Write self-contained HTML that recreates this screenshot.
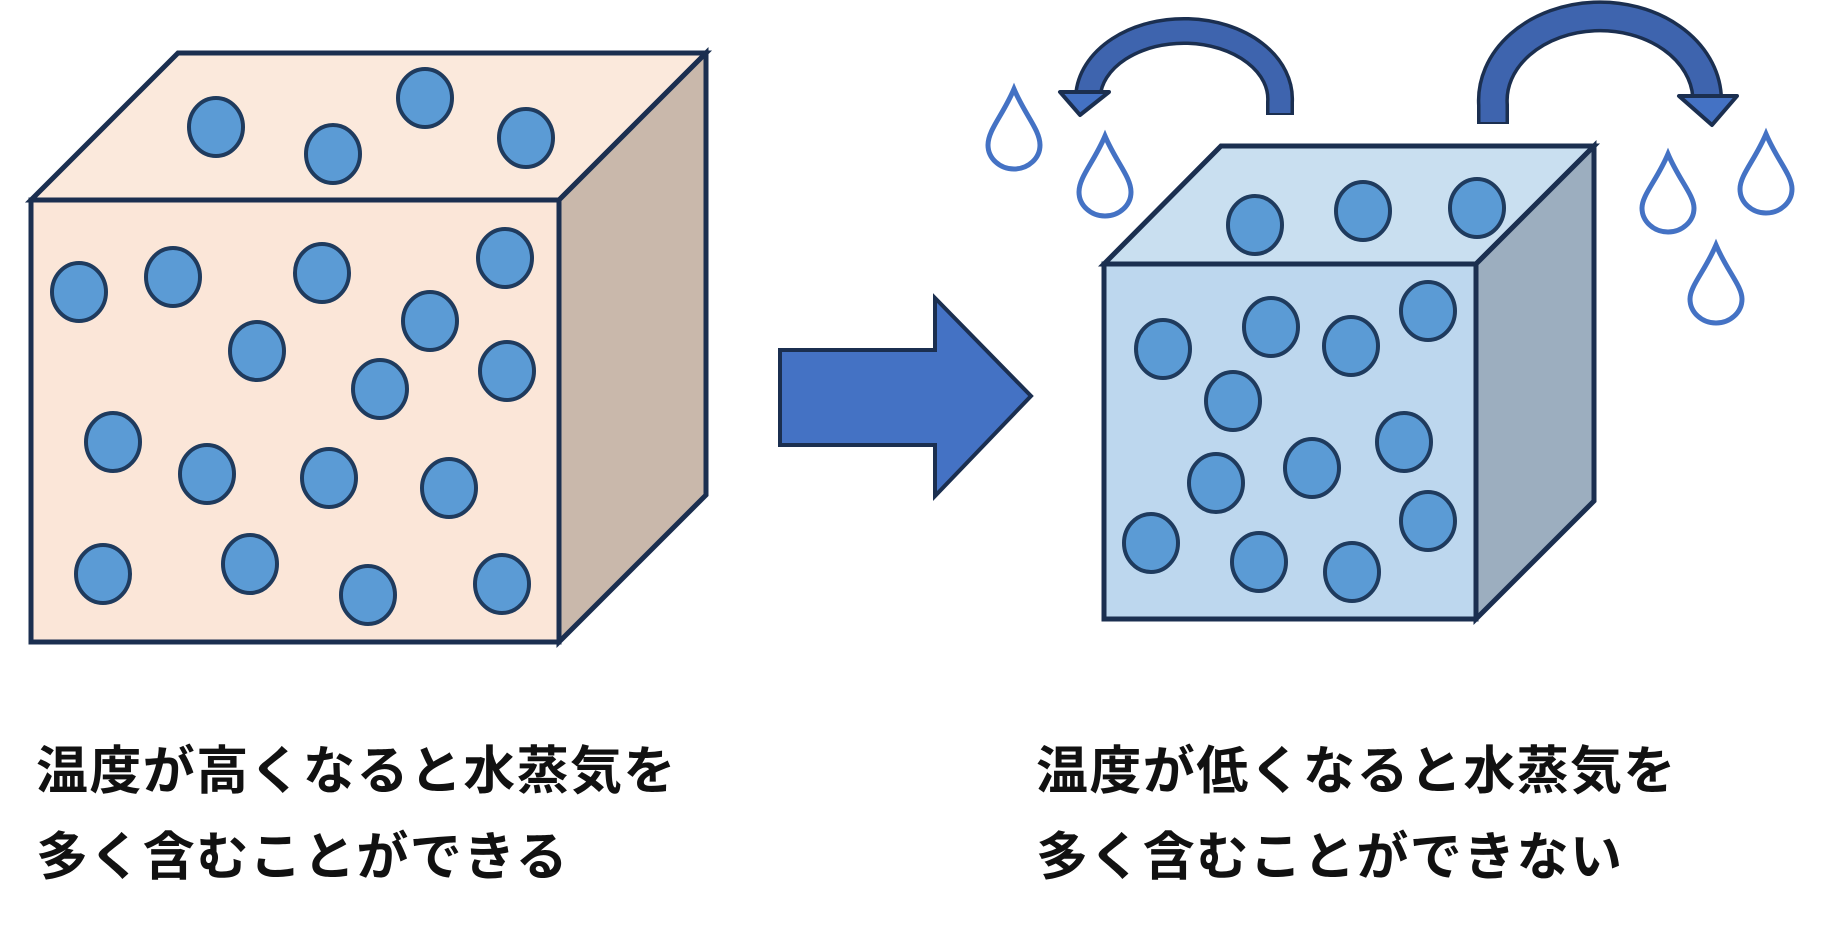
<!DOCTYPE html>
<html><head><meta charset="utf-8"><style>
body{margin:0;width:1840px;height:930px;background:#fff;overflow:hidden;position:relative}
.t{position:absolute;font-family:"Liberation Sans","Noto Sans CJK JP",sans-serif;font-weight:bold;font-size:52px;color:#111;white-space:nowrap;letter-spacing:1.4px}
</style></head><body>
<svg width="1840" height="930" style="position:absolute;left:0;top:0">
<g stroke="#1b2f50" stroke-width="5" stroke-linejoin="miter">
<polygon points="178,53 706,53 559,200 31,200" fill="#fbe9dc"/>
<polygon points="706,53 706,495 559,642 559,200" fill="#c9b8ab"/>
<rect x="31" y="200" width="528" height="442" fill="#fbe6d8"/>
</g>
<g fill="#5b9bd5" stroke="#1f3b5e" stroke-width="4">
<ellipse cx="216" cy="127" rx="27" ry="29"/><ellipse cx="333" cy="154" rx="27" ry="29"/><ellipse cx="425" cy="98" rx="27" ry="29"/><ellipse cx="526" cy="138" rx="27" ry="29"/>
<ellipse cx="79" cy="292" rx="27" ry="29"/><ellipse cx="173" cy="277" rx="27" ry="29"/><ellipse cx="322" cy="273" rx="27" ry="29"/><ellipse cx="505" cy="258" rx="27" ry="29"/>
<ellipse cx="257" cy="351" rx="27" ry="29"/><ellipse cx="430" cy="321" rx="27" ry="29"/><ellipse cx="507" cy="371" rx="27" ry="29"/><ellipse cx="380" cy="389" rx="27" ry="29"/>
<ellipse cx="113" cy="442" rx="27" ry="29"/><ellipse cx="207" cy="474" rx="27" ry="29"/><ellipse cx="329" cy="478" rx="27" ry="29"/><ellipse cx="449" cy="488" rx="27" ry="29"/>
<ellipse cx="103" cy="574" rx="27" ry="29"/><ellipse cx="250" cy="564" rx="27" ry="29"/><ellipse cx="368" cy="595" rx="27" ry="29"/><ellipse cx="502" cy="584" rx="27" ry="29"/>
</g>
<polygon points="780,350 935,350 935,298 1031,396 935,496 935,445 780,445" fill="#4472c4" stroke="#1b2f50" stroke-width="4"/>
<g stroke="#1b2f50" stroke-width="5">
<polygon points="1221,146 1594,146 1476,264 1104,264" fill="#c9dff0"/>
<polygon points="1594,146 1594,501 1476,619 1476,264" fill="#9caebf"/>
<rect x="1104" y="264" width="372" height="355" fill="#bdd7ee"/>
</g>
<g fill="#5b9bd5" stroke="#1f3b5e" stroke-width="4">
<ellipse cx="1255" cy="225" rx="27" ry="29"/><ellipse cx="1363" cy="211" rx="27" ry="29"/><ellipse cx="1477" cy="208" rx="27" ry="29"/>
<ellipse cx="1163" cy="349" rx="27" ry="29"/><ellipse cx="1271" cy="327" rx="27" ry="29"/><ellipse cx="1351" cy="346" rx="27" ry="29"/><ellipse cx="1428" cy="311" rx="27" ry="29"/>
<ellipse cx="1233" cy="401" rx="27" ry="29"/><ellipse cx="1404" cy="442" rx="27" ry="29"/><ellipse cx="1312" cy="468" rx="27" ry="29"/><ellipse cx="1216" cy="483" rx="27" ry="29"/>
<ellipse cx="1151" cy="543" rx="27" ry="29"/><ellipse cx="1259" cy="562" rx="27" ry="29"/><ellipse cx="1352" cy="572" rx="27" ry="29"/><ellipse cx="1428" cy="521" rx="27" ry="29"/>
</g>
<path d="M1280,115 L1280,102 A96,68 0 0 0 1088,96" fill="none" stroke="#1b2f50" stroke-width="28"/>
<path d="M1280,113 L1280,102 A96,68 0 0 0 1088,96" fill="none" stroke="#3e64ae" stroke-width="21"/>
<polygon points="1060,92 1109,92 1080,115" fill="#4472c4" stroke="#1b2f50" stroke-width="4" stroke-linejoin="round"/>
<path d="M1493,124 L1493,105 A107,84 0 0 1 1707,96" fill="none" stroke="#1b2f50" stroke-width="32"/>
<path d="M1493,122 L1493,105 A107,84 0 0 1 1707,96" fill="none" stroke="#3e64ae" stroke-width="25"/>
<polygon points="1679,96 1737,96 1712,125" fill="#4472c4" stroke="#1b2f50" stroke-width="4" stroke-linejoin="round"/>
<g fill="#fff" stroke="#4472c4" stroke-width="5">
<path d="M1014,89 C1025,115 1040,130 1040,145 A26,24 0 0 1 988,145 C988,130 1003,115 1014,89Z"/>
<path d="M1105,136 C1116,162 1131,177 1131,192 A26,24 0 0 1 1079,192 C1079,177 1094,162 1105,136Z"/>
<path d="M1668,154 C1679,180 1694,195 1694,208 A26,24 0 0 1 1642,208 C1642,195 1657,180 1668,154Z"/>
<path d="M1766,134 C1777,160 1792,175 1792,189 A26,24 0 0 1 1740,189 C1740,175 1755,160 1766,134Z"/>
<path d="M1716,245 C1727,271 1742,286 1742,299 A26,24 0 0 1 1690,299 C1690,286 1705,271 1716,245Z"/>
</g>
</svg>
<div class="t" style="left:36px;top:729px">温度が高くなると水蒸気を</div>
<div class="t" style="left:36px;top:815px">多く含むことができる</div>
<div class="t" style="left:1036px;top:729px">温度が低くなると水蒸気を</div>
<div class="t" style="left:1036px;top:815px">多く含むことができない</div>
</body></html>
